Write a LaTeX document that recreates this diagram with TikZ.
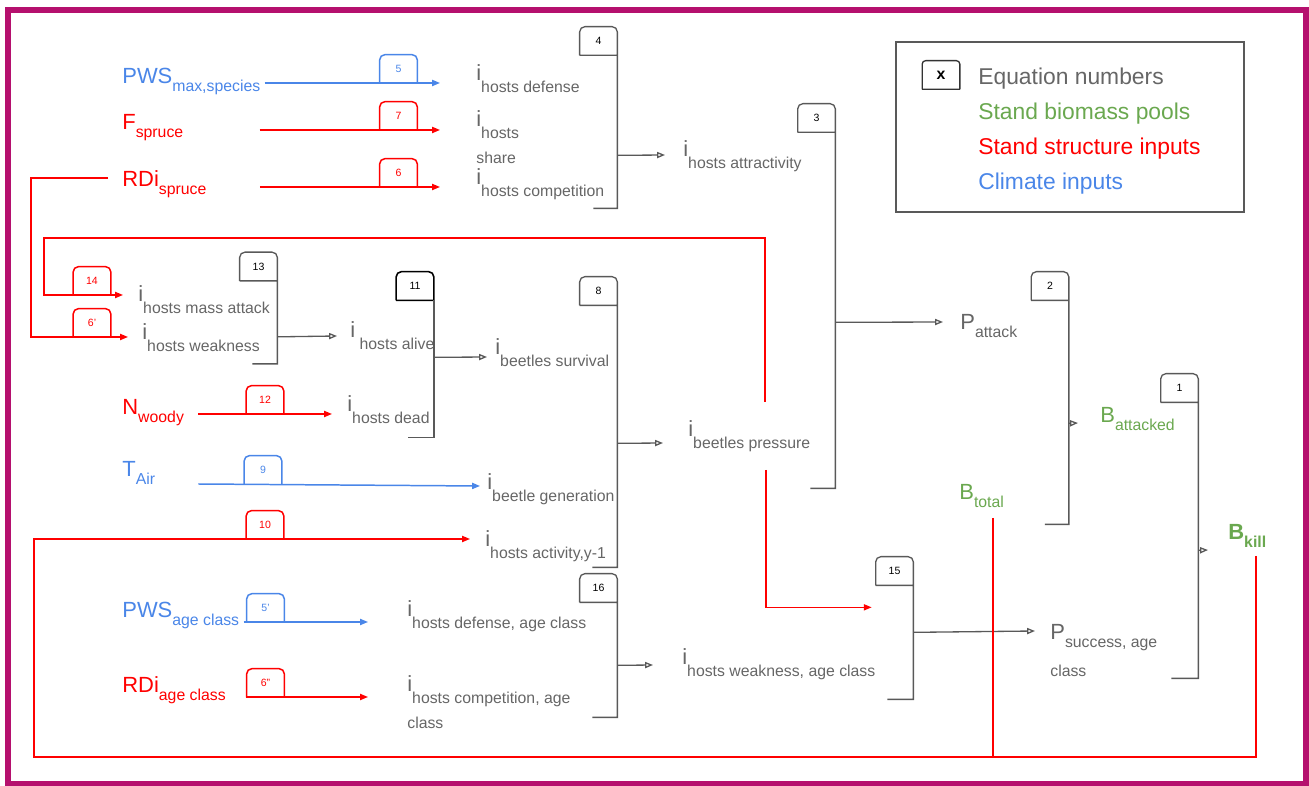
\documentclass[tikz,border=0pt]{standalone}
\usepackage{fontspec}
\setmainfont{Liberation Sans}
\usetikzlibrary{arrows.meta,calc}

\definecolor{txtgray}{HTML}{666666}
\definecolor{lngray}{HTML}{595959}
\definecolor{climblue}{HTML}{4A86E8}
\definecolor{structred}{HTML}{FF0000}
\definecolor{poolgreen}{HTML}{6AA84F}
\definecolor{framemag}{HTML}{B5106E}

\newcommand{\mainsz}{\fontsize{12.5}{14}\selectfont}
\newcommand{\subsz}{\fontsize{9}{11}\selectfont}
\newcommand{\ilab}[1]{{\mainsz i}\raisebox{-6.3pt}{\subsz #1}}
\newcommand{\vlab}[2]{{\mainsz #1}\raisebox{-4.5pt}{\subsz #2}}
\newcommand{\wrapline}[1]{\rlap{\raisebox{-20.5pt}{\subsz #1}}}

\tikzset{
  lbl/.style={anchor=base west, inner sep=0pt, text=txtgray},
  inlbl/.style={anchor=base west, inner sep=0pt},
  eqnum/.style={minimum width=0.74cm, minimum height=0.56cm, inner sep=0pt, font=\fontsize{6}{6}\selectfont},
  bracket/.style={draw=lngray, line width=0.75pt},
  grayarr/.style={lngray, line width=0.75pt, -{Triangle[open, length=4.5pt, width=3.5pt]}},
  redarr/.style={structred, line width=0.85pt, -{Triangle[length=4.5pt, width=3.5pt]}},
  bluearr/.style={climblue, line width=0.85pt, -{Triangle[length=4.5pt, width=3.5pt]}},
  redline/.style={structred, line width=0.85pt},
  legtext/.style={anchor=base west, inner sep=0pt, font=\fontsize{13}{15}\selectfont},
}

\begin{document}
\begin{tikzpicture}[x=0.02cm, y=-0.02cm]
\useasboundingbox (0,0) rectangle (1309,786);
\draw[framemag, line width=3.4pt] (8,10) rectangle (1306,784);

%Legend
\draw[lngray, line width=0.75pt] (896,42) rectangle (1244,212);
\node[eqnum, font=\bfseries\fontsize{9}{9}\selectfont] (keyx) at (941,75) {x};
\draw[black!80, line width=0.75pt] (keyx.south west) -- (keyx.south east) (keyx.south west) [rounded corners=2pt] |- (keyx.north) -| (keyx.south east);
\node[legtext, text=txtgray] (legeq) at (978,85) {Equation numbers};
\node[legtext, text=poolgreen] (legpool) at (978,120) {Stand biomass pools};
\node[legtext, text=structred] (legstruct) at (978,155) {Stand structure inputs};
\node[legtext, text=climblue] (legclim) at (978,190) {Climate inputs};

%Inputs
\node[inlbl, text=climblue] (pwsmax) at (122,84) {\vlab{PWS}{max,species}};
\node[inlbl, text=structred] (fspruce) at (122,130) {\vlab{F}{spruce}};
\node[inlbl, text=structred] (rdispruce) at (122,187) {\vlab{RDi}{spruce}};
\node[inlbl, text=structred] (nwoody) at (122,415) {\vlab{N}{woody}};
\node[inlbl, text=climblue] (tair) at (122,477) {\vlab{T}{Air}};
\node[inlbl, text=climblue] (pwsage) at (122,618) {\vlab{PWS}{age class}};
\node[inlbl, text=structred] (rdiage) at (122,693) {\vlab{RDi}{age class}};

%Indices
\node[lbl] (hdef) at (476,81) {\ilab{hosts defense}};
\node[lbl] (hshare) at (476,127) {\wrapline{share}\ilab{hosts}};
\node[lbl] (hcomp) at (476,185) {\ilab{hosts competition}};
\node[lbl] (hattr) at (683,157) {\ilab{hosts attractivity}};
\node[lbl] (hmass) at (138,302) {\ilab{hosts mass attack}};
\node[lbl] (hweak) at (142,340) {\ilab{hosts weakness}};
\node[lbl] (halive) at (350,338) {\ilab{\ hosts alive}};
\node[lbl] (hdead) at (347,412) {\ilab{hosts dead}};
\node[lbl] (bsurv) at (495,355) {\ilab{beetles survival}};
\node[lbl] (bpress) at (688,437) {\ilab{beetles pressure}};
\node[lbl] (bgen) at (487,490) {\ilab{beetle generation}};
\node[lbl] (hact) at (485,547) {\ilab{hosts activity,y-1}};
\node[lbl] (hdefage) at (407,617) {\ilab{hosts defense, age class}};
\node[lbl] (hcompage) at (407,692) {\wrapline{class}\ilab{hosts competition, age}};
\node[lbl] (hweakage) at (682,665) {\ilab{hosts weakness, age class}};
\node[lbl] (pattack) at (960,330) {\vlab{P}{attack}};
\node[lbl] (psucc) at (1050,640) {\wrapline{class}\vlab{P}{success, age}};

%Pools
\node[inlbl, text=poolgreen] (battacked) at (1100,423) {\vlab{B}{attacked}};
\node[inlbl, text=poolgreen] (btotal) at (959,500) {\vlab{B}{total}};
\node[inlbl, text=poolgreen, font=\bfseries] (bkill) at (1228,540) {\vlab{B}{kill}};

%Equations
\node[eqnum] (e4) at (598.5,41) {4};
\draw[bracket] (e4.south west) -- (e4.south east) (e4.south west) [rounded corners=3pt] |- (e4.north) -| (e4.south east) [sharp corners] -- ++(0,153) -- ++(-24,0);
\node[eqnum] (e3) at (816.5,118) {3};
\draw[bracket] (e3.south west) -- (e3.south east) (e3.south west) [rounded corners=3pt] |- (e3.north) -| (e3.south east) [sharp corners] -- ++(0,356) -- ++(-25,0);
\node[eqnum] (e13) at (258.5,266.5) {13};
\draw[bracket] (e13.south west) -- (e13.south east) (e13.south west) [rounded corners=3pt] |- (e13.north) -| (e13.south east) [sharp corners] -- ++(0,83) -- ++(-25,0);
\node[eqnum] (e11) at (415,286) {11};
\draw[bracket, draw=black, line width=0.9pt] (e11.south west) -- (e11.south east) (e11.south west) [rounded corners=3pt] |- (e11.north) -| (e11.south east);
\draw[bracket] (e11.south east) -- ++(0,137) -- ++(-26,0);
\node[eqnum] (e8) at (598.5,291) {8};
\draw[bracket] (e8.south west) -- (e8.south east) (e8.south west) [rounded corners=3pt] |- (e8.north) -| (e8.south east) [sharp corners] -- ++(0,262) -- ++(-25,0);
\node[eqnum] (e2) at (1050,286) {2};
\draw[bracket] (e2.south west) -- (e2.south east) (e2.south west) [rounded corners=3pt] |- (e2.north) -| (e2.south east) [sharp corners] -- ++(0,224) -- ++(-24,0);
\node[eqnum] (e1) at (1179.5,388) {1};
\draw[bracket] (e1.south west) -- (e1.south east) (e1.south west) [rounded corners=3pt] |- (e1.north) -| (e1.south east) [sharp corners] -- ++(0,276) -- ++(-27,0);
\node[eqnum] (e16) at (598.5,588) {16};
\draw[bracket] (e16.south west) -- (e16.south east) (e16.south west) [rounded corners=3pt] |- (e16.north) -| (e16.south east) [sharp corners] -- ++(0,115) -- ++(-25,0);
\node[eqnum] (e15) at (894.5,571) {15};
\draw[bracket] (e15.south west) -- (e15.south east) (e15.south west) [rounded corners=3pt] |- (e15.north) -| (e15.south east) [sharp corners] -- ++(0,114) -- ++(-26,0);

%Equation outputs
\draw[grayarr] ($(e4.south east)+(0,100)$) -- ($(hattr.base west)+(-18,-2)$);
\draw[grayarr] ($(e3.south east)+(0,190)$) -- ($(pattack.base west)+(-17,-8)$);
\draw[grayarr] ($(e13.south east)+(0,56)$) -- ($(halive.base west)+(-13,-2)$);
\draw[grayarr] ($(e11.south east)+(0,57)$) -- ($(bsurv.base west)+(-8,2)$);
\draw[grayarr] ($(e8.south east)+(0,138)$) -- ($(bpress.base west)+(-25,6)$);
\draw[grayarr] ($(e2.south east)+(0,123)$) -- ($(battacked.base west)+(-22,0)$);
\draw[grayarr] ($(e1.south east)+(0,148)$) -- ($(bkill.base west)+(-20,10)$);
\draw[grayarr] ($(e16.south east)+(0,63)$) -- ($(hweakage.base west)+(-29,0)$);
\draw[grayarr] ($(e15.south east)+(0,47)$) -- ($(psucc.base west)+(-15,-9)$);

%Input arrows
\draw[bluearr] ($(pwsmax.base east)+(4,-1)$) -- ($(hdef.base west)+(-36,2)$);
\draw[redarr] ($(fspruce.base east)+(76,0)$) -- ($(hshare.base west)+(-36,3)$);
\draw[redarr] ($(rdispruce.base east)+(53,0)$) -- ($(hcomp.base west)+(-36,2)$);
\draw[redarr] ($(rdispruce.base west)+(-14,-9)$) -- ++(-77,0) |- ($(hweak.base west)+(-14,-3)$);
\draw[redarr] ($(bpress.base west)+(77,-35)$) -- ++(0,-164) -- ++(-721,0) |- ($(hmass.base west)+(-15,-7)$);
\draw[redarr] ($(bpress.base west)+(78,33)$) |- ($(e15.south west)+(-4,22)$);
\draw[redarr] ($(nwoody.base east)+(14,-1)$) -- ($(hdead.base west)+(-15,2)$);
\draw[bluearr] ($(tair.base east)+(43,7)$) -- ($(bgen.base west)+(-7,-4)$);
\draw[redarr] ($(bkill.base west)+(28,16)$) -- ++(0,201) -- ++(-1222,0) |- ($(hact.base west)+(-15,-8)$);
\draw[redline] ($(btotal.base west)+(34,18)$) -- ++(0,239);
\draw[bluearr] ($(pwsage.base east)+(4,4)$) -- ($(hdefage.base west)+(-39,5)$);
\draw[redarr] ($(rdiage.base east)+(20,4)$) -- ($(hcompage.base west)+(-39,5)$);

%Input equation numbers
\node[eqnum, text=climblue] (n5) at (398.5,69) {5};
\draw[climblue, line width=0.85pt] (n5.south west) [rounded corners=3pt] |- (n5.north) -| (n5.south east);
\node[eqnum, text=structred] (n7) at (398.5,116) {7};
\draw[structred, line width=0.85pt] (n7.south west) [rounded corners=3pt] |- (n7.north) -| (n7.south east);
\node[eqnum, text=structred] (n6) at (398.5,173) {6};
\draw[structred, line width=0.85pt] (n6.south west) [rounded corners=3pt] |- (n6.north) -| (n6.south east);
\node[eqnum, text=structred] (n14) at (92,281) {14};
\draw[structred, line width=0.85pt] (n14.south west) [rounded corners=3pt] |- (n14.north) -| (n14.south east);
\node[eqnum, text=structred] (n6p) at (92,323) {6'};
\draw[structred, line width=0.85pt] (n6p.south west) [rounded corners=3pt] |- (n6p.north) -| (n6p.south east);
\node[eqnum, text=structred] (n12) at (265,400) {12};
\draw[structred, line width=0.85pt] (n12.south west) [rounded corners=3pt] |- (n12.north) -| (n12.south east);
\node[eqnum, text=climblue] (n9) at (263,470) {9};
\draw[climblue, line width=0.85pt] (n9.south west) [rounded corners=3pt] |- (n9.north) -| (n9.south east);
\node[eqnum, text=structred] (n10) at (265,525) {10};
\draw[structred, line width=0.85pt] (n10.south west) [rounded corners=3pt] |- (n10.north) -| (n10.south east);
\node[eqnum, text=climblue] (n5p) at (265.5,608) {5'};
\draw[climblue, line width=0.85pt] (n5p.south west) [rounded corners=3pt] |- (n5p.north) -| (n5p.south east);
\node[eqnum, text=structred] (n6pp) at (265.5,683) {6''};
\draw[structred, line width=0.85pt] (n6pp.south west) [rounded corners=3pt] |- (n6pp.north) -| (n6pp.south east);

\end{tikzpicture}
\end{document}
